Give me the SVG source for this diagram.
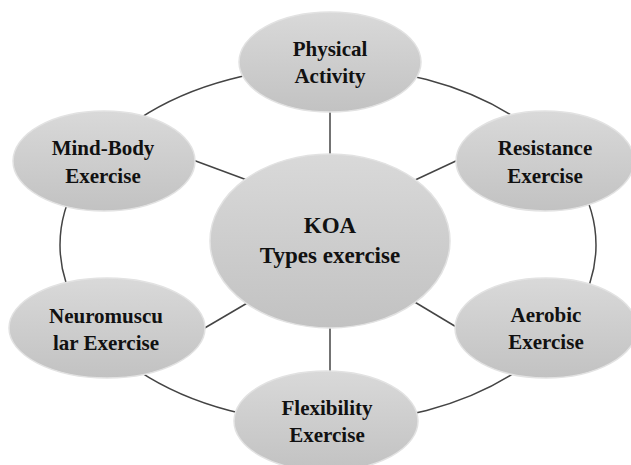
<svg xmlns="http://www.w3.org/2000/svg" width="631" height="465" viewBox="0 0 631 465">
<defs>
<linearGradient id="g" x1="0" y1="0" x2="0" y2="1">
<stop offset="0" stop-color="#d9d9d9"/>
<stop offset="1" stop-color="#c2c2c2"/>
</linearGradient>
<style>
.n{fill:url(#g);stroke:#e2e2e2;stroke-width:1.5}
.t{font-family:'Liberation Serif','Times New Roman',serif;font-weight:700;font-size:21px;fill:#111;text-anchor:middle}
.c{font-size:23px}
.l{stroke:#444;stroke-width:1.5;fill:none}
</style>
</defs>
<rect width="631" height="465" fill="#fff"/>
<g id="connectors">
<ellipse class="l" cx="328" cy="245" rx="268" ry="178"/>
<line class="l" x1="330" y1="110" x2="330" y2="156"/>
<line class="l" x1="330" y1="326" x2="330" y2="373"/>
<line class="l" x1="193" y1="160" x2="247" y2="180"/>
<line class="l" x1="413" y1="181" x2="458" y2="160"/>
<line class="l" x1="203" y1="329" x2="249" y2="302"/>
<line class="l" x1="413" y1="301" x2="458" y2="328"/>
</g>
<g id="center">
<ellipse class="n" cx="330" cy="241" rx="120" ry="87"/>
<text class="t c" x="330" y="233">KOA</text>
<text class="t c" x="330" y="263">Types exercise</text>
</g>
<g id="physical">
<ellipse class="n" cx="330" cy="62" rx="91" ry="50"/>
<text class="t" x="330" y="56">Physical</text>
<text class="t" x="330" y="83">Activity</text>
</g>
<g id="mindbody">
<ellipse class="n" cx="104" cy="161" rx="91" ry="50"/>
<text class="t" x="103" y="155">Mind-Body</text>
<text class="t" x="103" y="183">Exercise</text>
</g>
<g id="resistance">
<ellipse class="n" cx="545" cy="161" rx="89" ry="50"/>
<text class="t" x="545" y="155">Resistance</text>
<text class="t" x="545" y="183">Exercise</text>
</g>
<g id="neuromuscular">
<ellipse class="n" cx="107" cy="328" rx="98" ry="50"/>
<text class="t" x="106" y="323">Neuromuscu</text>
<text class="t" x="106" y="350">lar Exercise</text>
</g>
<g id="aerobic">
<ellipse class="n" cx="546" cy="328" rx="91" ry="50"/>
<text class="t" x="546" y="322">Aerobic</text>
<text class="t" x="546" y="349">Exercise</text>
</g>
<g id="flexibility">
<ellipse class="n" cx="326" cy="421" rx="92" ry="50"/>
<text class="t" x="327" y="415">Flexibility</text>
<text class="t" x="327" y="442">Exercise</text>
</g>
</svg>
